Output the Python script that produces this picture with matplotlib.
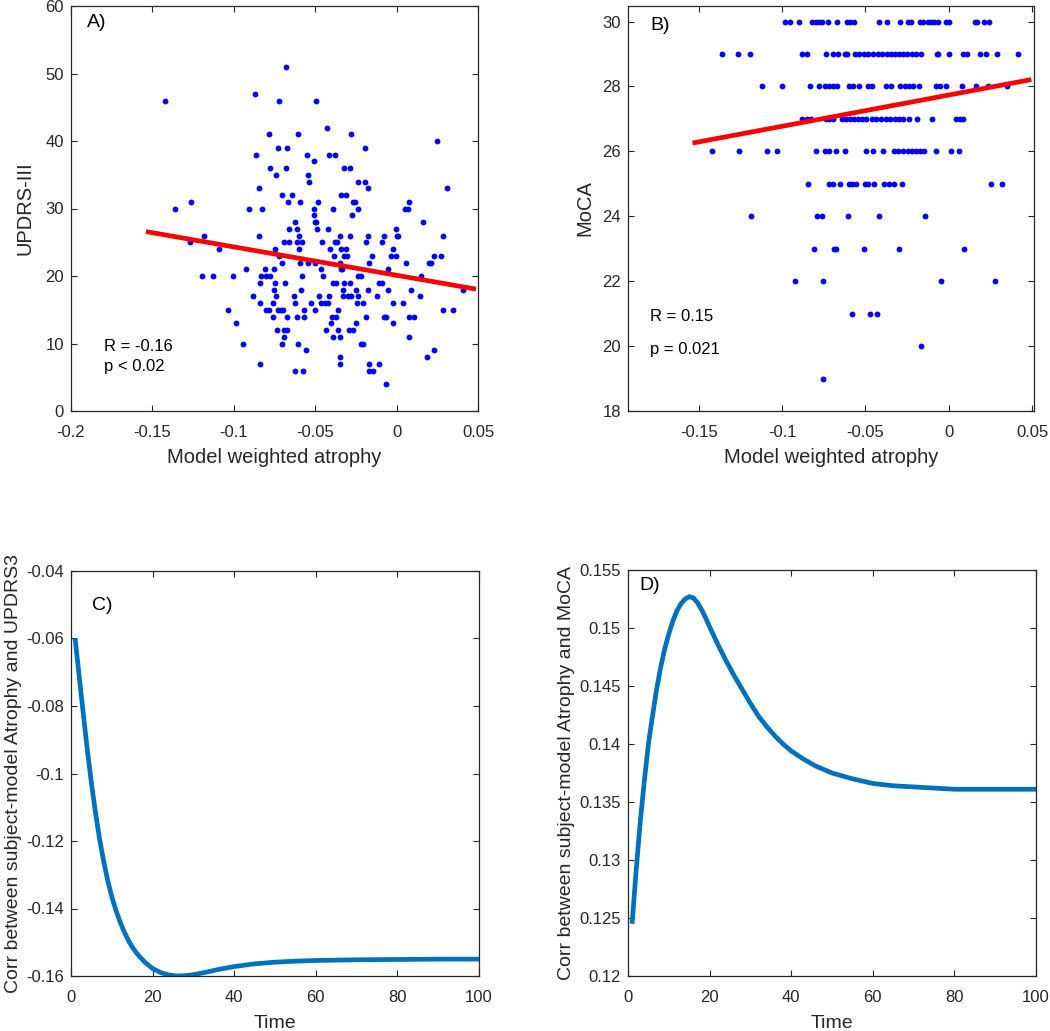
import numpy as np
import matplotlib.pyplot as plt

plt.rcParams['font.family'] = ['Liberation Sans', 'DejaVu Sans']
plt.rcParams['axes.unicode_minus'] = False

# ---- panel A: UPDRS-III vs model weighted atrophy (one row per score) ----
updrs_scores = [51, 47, 46, 42, 41, 40, 39, 38, 37, 36, 35, 34, 33, 32, 31, 30, 29, 28, 27,
                26, 25, 24, 23, 22, 21, 20, 19, 18, 17, 16, 15, 14, 13, 12, 11, 10, 9, 8, 7, 6, 4]
updrs_atrophy = [
    [-0.0680],
    [-0.0871],
    [-0.1424, -0.0723, -0.0496],
    [-0.0426],
    [-0.0781, -0.0605, -0.0281],
    [0.0250],
    [-0.0727, -0.0674, -0.0197],
    [-0.0861, -0.0549, -0.0416, -0.0381],
    [-0.0510],
    [-0.0779, -0.0680, -0.0322, -0.0285],
    [-0.0738, -0.0543],
    [-0.0541, -0.0238, -0.0197],
    [-0.0846, -0.0178, 0.0311],
    [-0.0703, -0.0641, -0.0340, -0.0311],
    [-0.1262, -0.0668, -0.0592, -0.0482, -0.0270, -0.0254, 0.0076],
    [-0.1361, -0.0904, -0.0826, -0.0506, -0.0391, -0.0236, 0.0053, 0.0070],
    [-0.0510, -0.0273],
    [-0.0625, -0.0504, -0.0496, 0.0164],
    [-0.0660, -0.0613, -0.0490, -0.0422, -0.0004],
    [-0.1186, -0.0846, -0.0602, -0.0346, -0.0289, -0.0178, -0.0076, 0.0002, 0.0008, 0.0285],
    [-0.1268, -0.0691, -0.0658, -0.0613, -0.0582, -0.0459, -0.0377, -0.0365, -0.0189, -0.0088],
    [-0.1090, -0.0746, -0.0602, -0.0412, -0.0340, -0.0309, -0.0023],
    [-0.0723, -0.0383, -0.0324, -0.0305, -0.0154, -0.0037, -0.0002, 0.0230, 0.0273],
    [-0.0703, -0.0594, -0.0545, -0.0500, -0.0346, -0.0172, 0.0057, 0.0199, 0.0213],
    [-0.0926, -0.0809, -0.0754, -0.0467, -0.0340, -0.0334, -0.0055],
    [-0.1195, -0.1125, -0.1004, -0.0830, -0.0803, -0.0779, -0.0580, -0.0455, -0.0238, -0.0219, 0.0152],
    [-0.0842, -0.0750, -0.0686, -0.0391, -0.0375, -0.0322, -0.0285, -0.0111, -0.0090],
    [-0.0756, -0.0588, -0.0330, -0.0248, -0.0178, -0.0051, 0.0086, 0.0406],
    [-0.0883, -0.0740, -0.0633, -0.0475, -0.0416, -0.0332, -0.0301, -0.0279, -0.0240, -0.0119, 0.0145],
    [-0.0836, -0.0762, -0.0627, -0.0523, -0.0465, -0.0439, -0.0422, -0.0246, -0.0209, -0.0023, 0.0041],
    [-0.1033, -0.0803, -0.0783, -0.0730, -0.0709, -0.0695, -0.0568, -0.0502, -0.0357, 0.0285, 0.0344],
    [-0.0760, -0.0672, -0.0611, -0.0570, -0.0398, -0.0375, -0.0191, -0.0080, -0.0064, 0.0076, 0.0105],
    [-0.0986, -0.0404, -0.0248, -0.0025],
    [-0.0736, -0.0691, -0.0672, -0.0436, -0.0357, -0.0291, -0.0268],
    [-0.0689, -0.0391, -0.0346, 0.0074],
    [-0.0941, -0.0703, -0.0607, -0.0221, -0.0207],
    [-0.0555, 0.0230],
    [-0.0348, 0.0184],
    [-0.0842, -0.0346, -0.0170, -0.0107],
    [-0.0625, -0.0578, -0.0170, -0.0148],
    [-0.0066],
]
updrs_fit_x = [-0.1525, 0.0473]
updrs_fit_y = [26.52, 18.12]

# ---- panel B: MoCA vs model weighted atrophy ----
moca_scores = [30, 29, 28, 27, 26, 25, 24, 23, 22, 21, 20, 19]
moca_atrophy = [
    [-0.0984, -0.0954, -0.0900, -0.0820, -0.0798, -0.0778, -0.0758, -0.0724, -0.0670, -0.0610,
     -0.0590, -0.0570, -0.0418, -0.0370, -0.0290, -0.0242, -0.0226, -0.0170, -0.0154, -0.0122,
     -0.0106, -0.0090, -0.0066, -0.0018, 0.0002, 0.0156, 0.0172, 0.0210, 0.0242],
    [-0.1358, -0.1264, -0.1192, -0.0880, -0.0852, -0.0734, -0.0694, -0.0664, -0.0624, -0.0608,
     -0.0562, -0.0538, -0.0510, -0.0482, -0.0454, -0.0426, -0.0398, -0.0370, -0.0346, -0.0322,
     -0.0298, -0.0274, -0.0248, -0.0222, -0.0198, -0.0166, -0.0070, -0.0062, 0.0002, 0.0086,
     0.0110, 0.0190, 0.0222, 0.0292, 0.0418],
    [-0.1120, -0.1000, -0.0832, -0.0778, -0.0744, -0.0718, -0.0694, -0.0668, -0.0598, -0.0574,
     -0.0538, -0.0486, -0.0462, -0.0374, -0.0346, -0.0290, -0.0264, -0.0238, -0.0214, -0.0178,
     -0.0078, -0.0050, -0.0014, 0.0082, 0.0162, 0.0236, 0.0350],
    [-0.0878, -0.0850, -0.0826, -0.0738, -0.0718, -0.0694, -0.0638, -0.0614, -0.0590, -0.0566,
     -0.0542, -0.0518, -0.0494, -0.0462, -0.0434, -0.0406, -0.0378, -0.0350, -0.0322, -0.0298,
     -0.0274, -0.0238, -0.0190, -0.0102, 0.0046, 0.0066, 0.0086],
    [-0.1422, -0.1258, -0.1088, -0.1030, -0.0796, -0.0742, -0.0718, -0.0678, -0.0622, -0.0498,
     -0.0452, -0.0394, -0.0326, -0.0302, -0.0274, -0.0246, -0.0222, -0.0194, -0.0170, -0.0146,
     -0.0074, 0.0012, 0.0064],
    [-0.0842, -0.0718, -0.0694, -0.0654, -0.0598, -0.0578, -0.0554, -0.0502, -0.0486, -0.0450,
     -0.0386, -0.0358, -0.0330, -0.0282, 0.0256, 0.0318],
    [-0.1184, -0.0790, -0.0758, -0.0606, -0.0418, -0.0144],
    [-0.0806, -0.0686, -0.0674, -0.0508, -0.0298, 0.0094],
    [-0.0922, -0.0752, -0.0046, 0.0278],
    [-0.0582, -0.0470, -0.0430],
    [-0.0166],
    [-0.0752],
]
moca_fit_x = [-0.1524, 0.0482]
moca_fit_y = [26.27, 28.20]

# ---- panel C: correlation with UPDRS3 over time ----
time_c = [1, 2, 3, 4, 5, 6, 7, 8, 9, 10, 11, 12, 13, 14, 15, 16, 17, 18, 20, 22, 24, 26, 28,
          30, 33, 36, 40, 45, 50, 55, 60, 70, 80, 90, 100]
corr_c = [-0.0600, -0.0711, -0.0822, -0.0930, -0.1028, -0.1116, -0.1194, -0.1260, -0.1317,
          -0.1365, -0.1405, -0.1439, -0.1468, -0.1493, -0.1514, -0.1531, -0.1545, -0.1558,
          -0.1578, -0.1590, -0.1597, -0.1600, -0.1599, -0.1596, -0.1589, -0.1581, -0.1572,
          -0.1564, -0.1559, -0.1556, -0.1554, -0.1552, -0.1551, -0.1550, -0.1550]

# ---- panel D: correlation with MoCA over time ----
time_d = [1, 2, 3, 4, 5, 6, 7, 8, 9, 10, 11, 12, 13, 14, 15, 16, 17, 18, 19, 20, 22, 24, 26,
          28, 30, 32, 34, 36, 38, 40, 43, 46, 50, 55, 60, 65, 70, 80, 90, 100]
corr_d = [0.1245, 0.1291, 0.1333, 0.1368, 0.1400, 0.1424, 0.1447, 0.1466, 0.1482, 0.1495,
          0.1506, 0.1515, 0.1521, 0.1525, 0.1527, 0.1526, 0.1522, 0.1516, 0.1509, 0.1501,
          0.1486, 0.1472, 0.1459, 0.1447, 0.1435, 0.1424, 0.1415, 0.1407, 0.1400, 0.1394,
          0.1387, 0.1381, 0.1375, 0.1370, 0.1366, 0.1364, 0.1363, 0.1361, 0.1361, 0.1361]

# tick labels (MATLAB style)
atrophy_ticks_a = [-0.2, -0.15, -0.1, -0.05, 0, 0.05]
atrophy_labels_a = ['-0.2', '-0.15', '-0.1', '-0.05', '0', '0.05']
atrophy_ticks_b = [-0.15, -0.1, -0.05, 0, 0.05]
atrophy_labels_b = ['-0.15', '-0.1', '-0.05', '0', '0.05']
updrs_ticks = [0, 10, 20, 30, 40, 50, 60]
moca_ticks = [18, 20, 22, 24, 26, 28, 30]
time_ticks = [0, 20, 40, 60, 80, 100]
corr_c_ticks = [-0.16, -0.14, -0.12, -0.1, -0.08, -0.06, -0.04]
corr_c_labels = ['-0.16', '-0.14', '-0.12', '-0.1', '-0.08', '-0.06', '-0.04']
corr_d_ticks = [0.12, 0.125, 0.13, 0.135, 0.14, 0.145, 0.15, 0.155]
corr_d_labels = ['0.12', '0.125', '0.13', '0.135', '0.14', '0.145', '0.15', '0.155']

W, H = 1050, 1031
fig = plt.figure(figsize=(W / 100, H / 100), dpi=100)


def box(l, t, r, b):
    return [l / W, (H - b) / H, (r - l) / W, (b - t) / H]


def style(ax):
    ax.tick_params(direction='in', top=True, right=True, length=4, width=0.8,
                   colors='#262626', labelsize=12)
    ax.tick_params(axis='x', pad=10)
    ax.tick_params(axis='y', pad=5)
    for s in ax.spines.values():
        s.set_color('#262626')
        s.set_linewidth(0.9)


gray = '#262626'
blue_line = '#0072BD'

# A
axA = fig.add_axes(box(71, 6, 478, 411))
ax_x = [x for row in updrs_atrophy for x in row]
ax_y = [s for s, row in zip(updrs_scores, updrs_atrophy) for _ in row]
axA.plot(ax_x, ax_y, 'o', color='#0000FF', markersize=4.2, markeredgewidth=0)
axA.plot(updrs_fit_x, updrs_fit_y, color='#FF0000', linewidth=3.4)
axA.set_xlim(-0.2, 0.05)
axA.set_ylim(0, 60)
axA.set_xticks(atrophy_ticks_a, atrophy_labels_a)
axA.set_yticks(updrs_ticks)
axA.set_xlabel('Model weighted atrophy', fontsize=14.5, color=gray, labelpad=6)
axA.set_ylabel('UPDRS-III', fontsize=14.5, color=gray, labelpad=8)
axA.text(0.039, 0.960, 'A)', transform=axA.transAxes, fontsize=14, va='center')
axA.text(0.082, 0.159, 'R = -0.16', transform=axA.transAxes, fontsize=12, va='center')
axA.text(0.082, 0.111, 'p < 0.02', transform=axA.transAxes, fontsize=12, va='center')
style(axA)

# B
axB = fig.add_axes(box(628, 6, 1034, 411))
bx = [x for row in moca_atrophy for x in row]
by = [s for s, row in zip(moca_scores, moca_atrophy) for _ in row]
axB.plot(bx, by, 'o', color='#0000FF', markersize=4.2, markeredgewidth=0)
axB.plot(moca_fit_x, moca_fit_y, color='#FF0000', linewidth=3.4)
axB.set_xlim(-0.1925, 0.0512)
axB.set_ylim(18, 30.48)
axB.set_xticks(atrophy_ticks_b, atrophy_labels_b)
axB.set_yticks(moca_ticks)
axB.set_xlabel('Model weighted atrophy', fontsize=14.5, color=gray, labelpad=6)
axB.set_ylabel('MoCA', fontsize=14.5, color=gray, labelpad=6)
axB.text(0.054, 0.953, 'B)', transform=axB.transAxes, fontsize=14, va='center')
axB.text(0.054, 0.233, 'R = 0.15', transform=axB.transAxes, fontsize=12, va='center')
axB.text(0.054, 0.152, 'p = 0.021', transform=axB.transAxes, fontsize=12, va='center')
style(axB)

# C
axC = fig.add_axes(box(71, 571, 479, 976))
axC.plot(time_c, corr_c, color=blue_line, linewidth=3.4, solid_capstyle='butt')
axC.set_xlim(0, 100)
axC.set_ylim(-0.16, -0.04)
axC.set_xticks(time_ticks)
axC.set_yticks(corr_c_ticks, corr_c_labels)
axC.set_xlabel('Time', fontsize=14, color=gray, labelpad=7)
axC.set_ylabel('Corr between subject-model Atrophy and UPDRS3', fontsize=14, color=gray, labelpad=3)
axC.text(0.051, 0.916, 'C)', transform=axC.transAxes, fontsize=14, va='center')
style(axC)

# D
axD = fig.add_axes(box(628, 570, 1036, 976))
axD.plot(time_d, corr_d, color=blue_line, linewidth=3.4, solid_capstyle='butt')
axD.set_xlim(0, 100)
axD.set_ylim(0.12, 0.155)
axD.set_xticks(time_ticks)
axD.set_yticks(corr_d_ticks, corr_d_labels)
axD.set_xlabel('Time', fontsize=14, color=gray, labelpad=7)
axD.set_ylabel('Corr between subject-model Atrophy and MoCA', fontsize=14, color=gray, labelpad=3)
axD.text(0.028, 0.963, 'D)', transform=axD.transAxes, fontsize=14, va='center')
style(axD)

fig.savefig('out.png', dpi=100)
